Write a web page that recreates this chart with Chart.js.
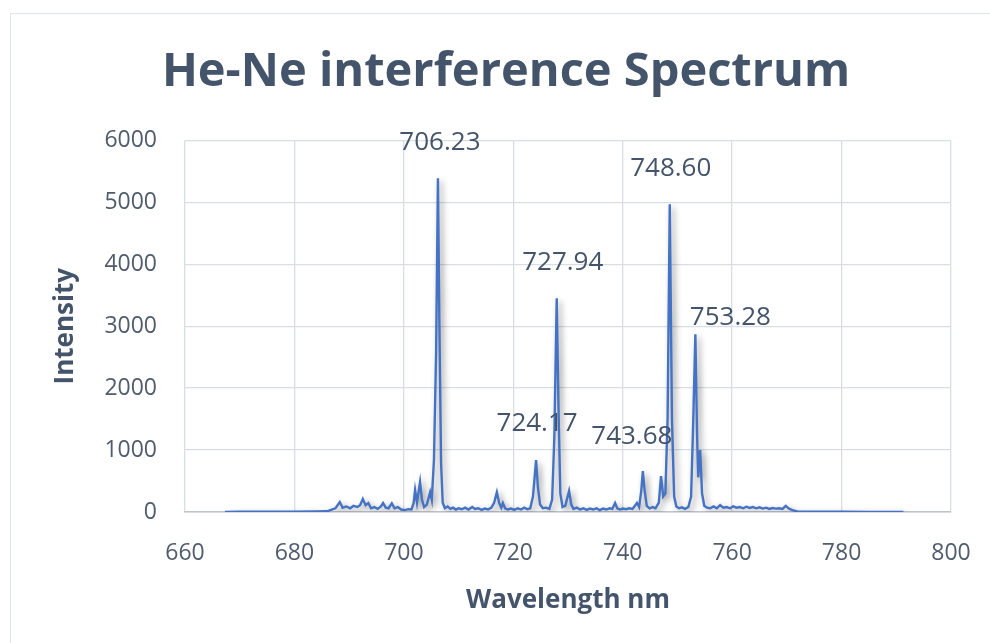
<!DOCTYPE html>
<html>
<head>
<meta charset="utf-8">
<title>He-Ne interference Spectrum</title>
<script src="https://cdn.jsdelivr.net/npm/chart.js@4.4.1/dist/chart.umd.min.js"></script>
<style>
	html, body { margin: 0; padding: 0; background: #ffffff; overflow: hidden; }
	#frame {
		position: absolute; left: 10px; top: 13px;
		width: 1000px; height: 660px;
		border: 1px solid #dfe3ea;
	}
	#wrap { position: absolute; left: 0; top: 0; width: 990px; height: 643px; }
</style>
</head>
<body>
<div id="frame"></div>
<div id="wrap"><canvas id="myChart"></canvas></div>
<script>
// wavelength (nm) and measured intensity
const wavelength = [
	667.3, 670, 675, 680, 684, 686, 686.8, 687.5, 688.3, 688.8,
	689.5, 690.2, 690.8, 691.5, 692.0, 692.5, 693.0, 693.5, 694.0, 694.6,
	695.2, 695.8, 696.2, 696.7, 697.2, 697.8, 698.3, 698.9, 699.5, 700.2,
	700.8, 701.4, 701.8, 702.05, 702.4, 702.96, 703.3, 703.7, 704.2, 704.8,
	705.1, 705.5, 705.9, 706.23, 706.5, 706.8, 707.1, 707.5, 708, 708.5,
	709, 709.5, 710, 710.6, 711.2, 711.8, 712.5, 713, 713.6, 714.2,
	714.8, 715.4, 716.0, 716.5, 717.0, 717.4, 717.8, 718.1, 718.5, 719,
	719.6, 720.2, 720.8, 721.4, 722, 722.6, 723.1, 723.6, 724.17, 724.5,
	724.9, 725.4, 726, 726.6, 727.1, 727.5, 727.94, 728.3, 728.6, 729.0,
	729.5, 730.2, 730.6, 731, 731.6, 732.2, 732.8, 733.4, 734, 734.6,
	735.2, 735.8, 736.4, 737, 737.6, 738.1, 738.6, 739, 739.5, 740,
	740.6, 741.2, 741.8, 742.6, 743.0, 743.4, 743.68, 744.0, 744.4, 744.9,
	745.5, 746.0, 746.6, 747.0, 747.4, 747.8, 748.2, 748.6, 749.0, 749.4,
	749.8, 750.3, 750.8, 751.4, 752.0, 752.5, 752.9, 753.28, 753.6, 753.8,
	754.15, 754.5, 754.9, 755.4, 756, 756.6, 757.2, 757.8, 758.4, 759,
	759.6, 760.2, 760.8, 761.4, 762, 762.6, 763.2, 763.8, 764.4, 765,
	765.6, 766.2, 766.8, 767.4, 768, 768.6, 769.2, 769.8, 770.3, 770.8,
	771.4, 772, 775, 780, 785, 791.3
];
const intensity = [
	0, 5, 3, 6, 8, 12, 40, 60, 160, 70,
	90, 60, 100, 80, 110, 210, 110, 145, 60, 80,
	50, 90, 145, 70, 60, 140, 60, 80, 40, 30,
	45, 40, 150, 355, 150, 485, 200, 80, 120, 320,
	200, 840, 2600, 5388, 3000, 800, 150, 60, 90, 50,
	70, 40, 60, 45, 70, 40, 80, 50, 60, 35,
	55, 40, 70, 150, 320, 150, 70, 145, 60, 40,
	55, 35, 60, 40, 70, 45, 60, 250, 839, 400,
	120, 60, 70, 50, 200, 1200, 3452, 1500, 300, 80,
	100, 340, 120, 50, 70, 40, 60, 35, 55, 40,
	60, 30, 55, 40, 60, 50, 145, 60, 40, 55,
	45, 60, 50, 145, 80, 350, 661, 350, 100, 60,
	80, 60, 150, 580, 250, 300, 1500, 4968, 1500, 250,
	90, 60, 75, 50, 80, 250, 1500, 2871, 1200, 560,
	1000, 300, 100, 70, 60, 90, 60, 110, 70, 80,
	60, 90, 70, 80, 60, 85, 65, 80, 60, 75,
	55, 70, 50, 65, 55, 60, 50, 100, 60, 40,
	20, 5, 3, 4, 2, 0
];
// peaks that carry a label
const peakLabels = ["706.23", "724.17", "727.94", "743.68", "748.60", "753.28"];
// label nudge in pixels, same order as peakLabels
const labelShift = [[2, -36], [1, -36], [6, -36], [-11, -34], [1, -36], [35, -17]];

const points = wavelength.map((w, i) => ({ x: w, y: intensity[i] }));
const ink = "#44546A";
const tickInk = "#505c6e";
const fontFamily = "'Open Sans', 'Liberation Sans', sans-serif";

// soft drop shadow under the trace
const lineShadow = {
	id: "lineShadow",
	beforeDatasetsDraw(chart) {
		const ctx = chart.ctx;
		ctx.save();
		ctx.shadowColor = "rgba(0,0,0,0.4)";
		ctx.shadowBlur = 6;
		ctx.shadowOffsetX = 3;
		ctx.shadowOffsetY = 3;
	},
	afterDatasetsDraw(chart) {
		chart.ctx.restore();
	}
};

// wavelength text above each labelled peak
const peakText = {
	id: "peakText",
	afterDatasetsDraw(chart) {
		const ctx = chart.ctx;
		const xs = chart.scales.x;
		const ys = chart.scales.y;
		ctx.save();
		ctx.font = "26px " + fontFamily;
		ctx.fillStyle = ink;
		ctx.textAlign = "center";
		ctx.textBaseline = "middle";
		peakLabels.forEach((lab, k) => {
			const i = wavelength.indexOf(parseFloat(lab));
			const px = xs.getPixelForValue(wavelength[i]) + labelShift[k][0];
			const py = ys.getPixelForValue(intensity[i]) + labelShift[k][1];
			ctx.fillText(lab, px, py);
		});
		ctx.restore();
	}
};

new Chart(document.getElementById("myChart"), {
	type: "line",
	data: {
		datasets: [
			{
				label: "Intensity",
				data: points,
				borderColor: "#4472C4",
				borderWidth: 2.4,
				pointRadius: 0,
				tension: 0,
				fill: false
			}
		]
	},
	plugins: [lineShadow, peakText],
	options: {
		responsive: true,
		maintainAspectRatio: false,
		animation: false,
		layout: {
			padding: { left: 61, right: 39, top: 0, bottom: 0 }
		},
		plugins: {
			legend: { display: false },
			tooltip: { enabled: false },
			title: {
				display: true,
				text: "He-Ne interference Spectrum",
				color: ink,
				font: { family: fontFamily, size: 47, weight: "bold" },
				padding: { top: 44, bottom: 40 }
			}
		},
		scales: {
			x: {
				type: "linear",
				min: 660,
				max: 800,
				ticks: {
					stepSize: 20,
					color: tickInk,
					padding: 28,
					font: { family: fontFamily, size: 23 }
				},
				grid: { color: "#d9dde4", lineWidth: 1.3, drawTicks: false },
				border: { color: "#bfc5cf", width: 1.5 },
				title: {
					display: true,
					text: "Wavelength nm",
					color: ink,
					font: { family: fontFamily, size: 26, weight: "bold" },
					padding: { top: 4, bottom: 27 }
				},
				afterFit(scale) {
					scale.height = 131;
					scale.paddingRight = 0;
				}
			},
			y: {
				min: 0,
				max: 6000,
				ticks: {
					stepSize: 1000,
					color: tickInk,
					padding: 28,
					font: { family: fontFamily, size: 23 },
					callback: (v) => String(v)
				},
				grid: { color: "#d9dde4", lineWidth: 1.3, drawTicks: false },
				border: { display: false },
				title: {
					display: true,
					text: "Intensity",
					color: ink,
					font: { family: fontFamily, size: 26, weight: "bold" },
					padding: { top: -11, bottom: 4 }
				},
				afterFit(scale) { scale.width = 124; }
			}
		}
	}
});
</script>
</body>
</html>
